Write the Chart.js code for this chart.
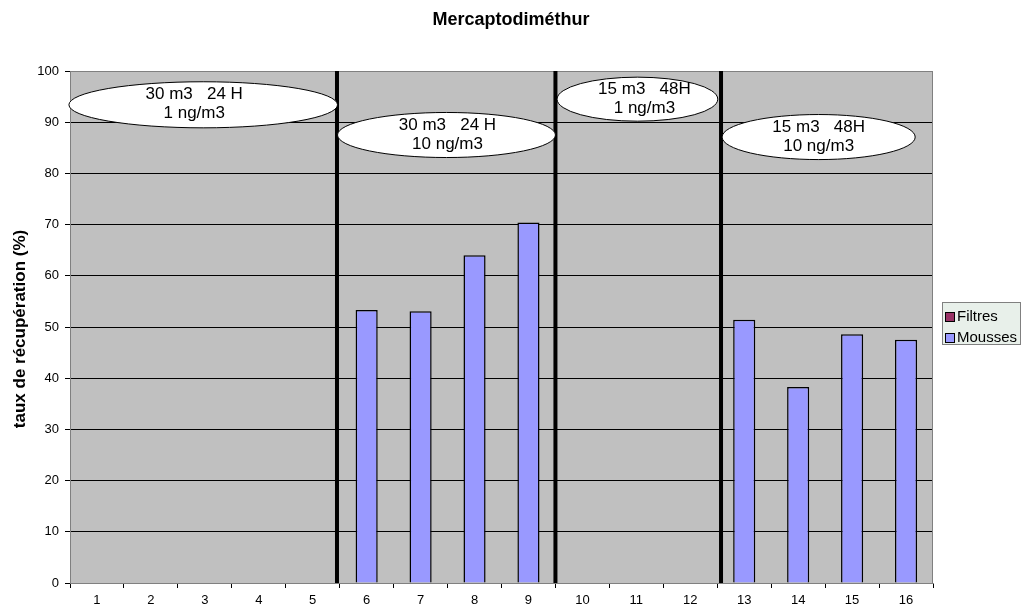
<!DOCTYPE html>
<html>
<head>
<meta charset="utf-8">
<script src="https://cdn.jsdelivr.net/npm/chart.js@4.4.1/dist/chart.umd.min.js"></script>
<style>
  html, body { margin: 0; padding: 0; background: #ffffff; }
  #wrap { width: 1022px; height: 612px; position: relative; }
</style>
</head>
<body>
<div id="wrap"><canvas id="c" width="1022" height="612"></canvas></div>
<script>
// Sample numbers along the x axis
const categories = ['1','2','3','4','5','6','7','8','9','10','11','12','13','14','15','16'];
// Recovery rates (%) for filters and foams
const filtres = [0,0,0,0,0,0,0,0,0,0,0,0,0,0,0,0];
const mousses = [null,null,null,null,null,53.3,53.1,64.0,70.4,null,null,null,51.4,38.3,48.6,47.5];
// Y axis tick values
const yTicks = [0,10,20,30,40,50,60,70,80,90,100];
// Group separators (category-index positions) and group captions
const separators = [4.45, 8.5, 11.57];
const groups = [
  { x: 1.97, y: 93.4, rx: 2.49, ry: 4.5, dx: -9, lines: ['30 m3   24 H', '1 ng/m3'] },
  { x: 6.48, y: 87.5, rx: 2.02, ry: 4.4, dx: 1, lines: ['30 m3   24 H', '10 ng/m3'] },
  { x: 10.02, y: 94.5, rx: 1.49, ry: 4.3, dx: 7, lines: ['15 m3   48H', '1 ng/m3'] },
  { x: 13.38, y: 87.1, rx: 1.79, ry: 4.4, dx: 0, lines: ['15 m3   48H', '10 ng/m3'] }
];
const chartTitle = 'Mercaptodiméthur';
const yTitle = 'taux de récupération (%)';

const FONT = 'Liberation Sans, Arial, sans-serif';

const decor = {
  id: 'decor',
  beforeDraw(chart) {
    const { ctx, chartArea: a } = chart;
    ctx.save();
    ctx.fillStyle = '#c0c0c0';
    ctx.fillRect(a.left, a.top, a.right - a.left, a.bottom - a.top);
    ctx.restore();
  },
  afterDatasetsDraw(chart) {
    const { ctx, chartArea: a, scales } = chart;
    const xs = scales.x, ys = scales.y;
    const step = xs.getPixelForValue(1) - xs.getPixelForValue(0);
    ctx.save();
    // plot border
    ctx.strokeStyle = '#808080';
    ctx.lineWidth = 1;
    ctx.strokeRect(a.left + 0.5, a.top + 0.5, a.right - a.left - 1, a.bottom - a.top);
    // thick separators
    ctx.strokeStyle = '#000000';
    ctx.lineWidth = 4;
    separators.forEach(s => {
      const px = xs.getPixelForValue(0) + s * step;
      ctx.beginPath();
      ctx.moveTo(px, a.top);
      ctx.lineTo(px, a.bottom);
      ctx.stroke();
    });
    // captions in ellipses
    groups.forEach(g => {
      const cx = xs.getPixelForValue(0) + g.x * step;
      const cy = ys.getPixelForValue(g.y);
      const rx = g.rx * step;
      const ry = Math.abs(ys.getPixelForValue(0) - ys.getPixelForValue(g.ry));
      ctx.beginPath();
      ctx.ellipse(cx, cy, rx, ry, 0, 0, Math.PI * 2);
      ctx.fillStyle = '#ffffff';
      ctx.fill();
      ctx.strokeStyle = '#000000';
      ctx.lineWidth = 1;
      ctx.stroke();
      ctx.fillStyle = '#000000';
      ctx.font = '17px ' + FONT;
      ctx.textAlign = 'center';
      ctx.textBaseline = 'middle';
      ctx.fillText(g.lines[0], cx + g.dx, cy - 10);
      ctx.fillText(g.lines[1], cx + g.dx, cy + 9);
    });
    ctx.restore();
  },
  afterDraw(chart) {
    const { ctx, chartArea: a } = chart;
    ctx.save();
    // title
    ctx.fillStyle = '#000000';
    ctx.font = 'bold 18px ' + FONT;
    ctx.textAlign = 'center';
    ctx.textBaseline = 'middle';
    ctx.fillText(chartTitle, 511, 20);
    // y axis title
    ctx.font = 'bold 17px ' + FONT;
    ctx.translate(20, 329);
    ctx.rotate(-Math.PI / 2);
    ctx.fillText(yTitle, 0, 0);
    ctx.restore();
    // legend
    ctx.save();
    const lx = 942, ly = 302, lw = 79, lh = 43;
    ctx.fillStyle = '#e8f0ea';
    ctx.fillRect(lx, ly, lw, lh);
    ctx.strokeStyle = '#808080';
    ctx.lineWidth = 1;
    ctx.strokeRect(lx + 0.5, ly + 0.5, lw - 1, lh - 1);
    const items = [
      { label: chart.data.datasets[0].label, color: chart.data.datasets[0].backgroundColor, y: ly + 15 },
      { label: chart.data.datasets[1].label, color: chart.data.datasets[1].backgroundColor, y: ly + 36 }
    ];
    ctx.font = '15px ' + FONT;
    ctx.textAlign = 'left';
    ctx.textBaseline = 'middle';
    items.forEach(it => {
      ctx.fillStyle = it.color;
      ctx.fillRect(lx + 3, it.y - 5, 10, 10);
      ctx.strokeStyle = '#000000';
      ctx.strokeRect(lx + 3.5, it.y - 4.5, 9, 9);
      ctx.fillStyle = '#000000';
      ctx.fillText(it.label, lx + 15, it.y);
    });
    ctx.restore();
  }
};

new Chart(document.getElementById('c'), {
  type: 'bar',
  data: {
    labels: categories,
    datasets: [
      { label: 'Filtres', data: filtres, backgroundColor: '#993366', borderColor: '#000000', borderWidth: 0 },
      { label: 'Mousses', data: mousses, backgroundColor: '#9999ff', borderColor: '#000000', borderWidth: 1.5 }
    ]
  },
  options: {
    responsive: false,
    animation: false,
    events: [],
    layout: { padding: { top: 71, right: 89, left: 0, bottom: 0 } },
    datasets: { bar: { categoryPercentage: 1, barPercentage: 0.41 } },
    plugins: { legend: { display: false }, title: { display: false }, tooltip: { enabled: false } },
    scales: {
      x: {
        stacked: true,
        offset: true,
        afterFit(s) { s.height = 29; },
        grid: { offset: true, drawOnChartArea: false, color: '#000000', tickLength: 5, tickColor: '#000000' },
        border: { color: '#808080' },
        ticks: { color: '#000000', font: { family: FONT, size: 13 }, padding: 5, maxRotation: 0 }
      },
      y: {
        stacked: true,
        min: 0, max: 100,
        afterFit(s) { s.width = 70; },
        afterBuildTicks(s) { s.ticks = yTicks.map(v => ({ value: v })); },
        grid: { color: '#000000', tickLength: 5, tickColor: '#000000' },
        border: { color: '#808080' },
        ticks: { color: '#000000', font: { family: FONT, size: 13 }, padding: 6 }
      }
    }
  },
  plugins: [decor]
});
</script>
</body>
</html>
